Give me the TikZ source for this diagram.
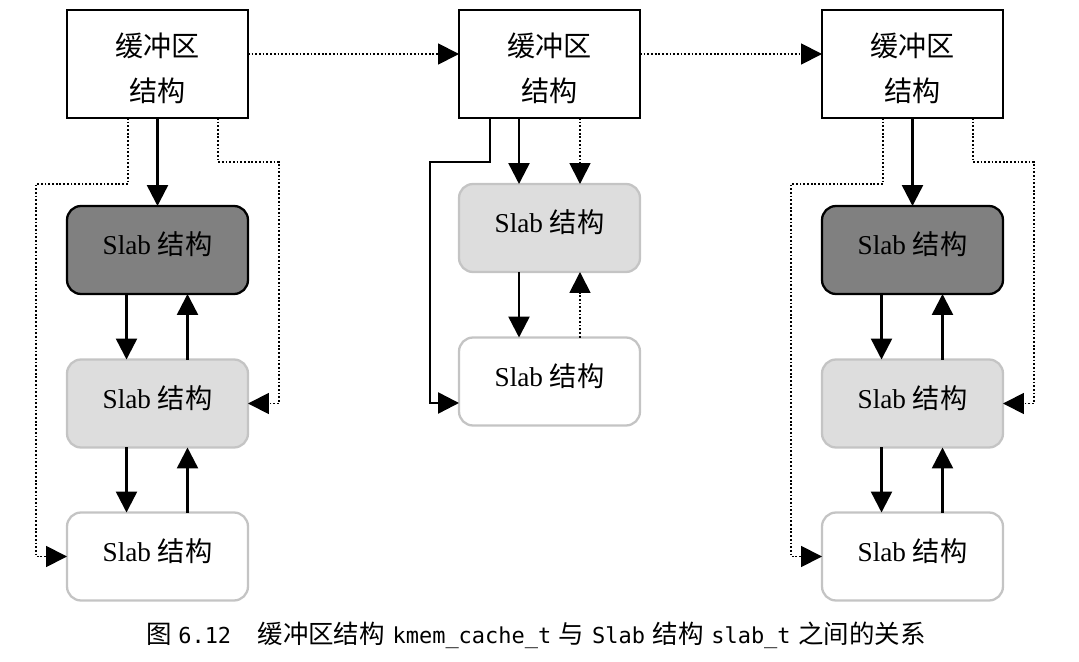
\documentclass[tikz,border=0pt]{standalone}
\usepackage{fontspec}
\setmainfont{Liberation Serif}
\newfontfamily\cjk{Noto Sans CJK SC}
\newfontfamily\capmono{DejaVu Sans Mono}
\usetikzlibrary{arrows.meta}
\definecolor{slabfull}{RGB}{128,128,128}
\definecolor{slabpart}{RGB}{221,221,221}
\definecolor{slabedge}{RGB}{196,196,196}
\tikzset{
  cachebox/.style={draw, line width=1.3pt, minimum width=3.62cm, minimum height=2.16cm, inner sep=0pt, outer sep=0pt, align=center, font=\cjk\fontsize{16}{25.6}\selectfont},
  slabbox/.style={draw=slabedge, line width=1.3pt, rounded corners=0.28cm, minimum width=3.62cm, minimum height=1.76cm, inner sep=0pt, outer sep=0pt, text depth=7.5pt, font=\fontsize{15.5}{18}\selectfont},
  slabfullbox/.style={slabbox, draw=black, fill=slabfull},
  slabpartbox/.style={slabbox, fill=slabpart},
  slabfreebox/.style={slabbox, fill=white},
  link/.style={line width=1.4pt, -{Triangle[length=0.42cm, width=0.42cm]}},
  dotlink/.style={link, line width=1pt, dash pattern=on 1pt off 1.1pt},
}

\begin{document}
\begin{tikzpicture}[x=0.02cm, y=-0.02cm]
                      \useasboundingbox (0,0) rectangle (1079,662);
                      % cache structures
                      \node[cachebox] (buf1) at (157.5,64) {\rule{0pt}{18.5pt}缓冲区\\结构};
                      \node[cachebox] (buf2) at (549.5,64) {\rule{0pt}{18.5pt}缓冲区\\结构};
                      \node[cachebox] (buf3) at (912.5,64) {\rule{0pt}{18.5pt}缓冲区\\结构};
                      % slabs, left
                      \node[slabfullbox] (s1a) at (157.5,250) {Slab {\cjk 结构}};
                      \node[slabpartbox] (s1b) at (157.5,403.5) {Slab {\cjk 结构}};
                      \node[slabfreebox] (s1c) at (157.5,556.5) {Slab {\cjk 结构}};
                      % slabs, middle
                      \node[slabpartbox] (s2a) at (549.5,228) {Slab {\cjk 结构}};
                      \node[slabfreebox] (s2b) at (549.5,381.5) {Slab {\cjk 结构}};
                      % slabs, right
                      \node[slabfullbox] (s3a) at (912.5,250) {Slab {\cjk 结构}};
                      \node[slabpartbox] (s3b) at (912.5,403.5) {Slab {\cjk 结构}};
                      \node[slabfreebox] (s3c) at (912.5,556.5) {Slab {\cjk 结构}};
                      % cache chain
                      \draw[dotlink] ([yshift=0.2cm]buf1.east) -- ([yshift=0.2cm]buf2.west);
                      \draw[dotlink] ([yshift=0.2cm]buf2.east) -- ([yshift=0.2cm]buf3.west);
                      % left column
                      \draw[link] (buf1.south) -- (s1a.north);
                      \draw[link] ([xshift=-0.62cm]s1a.south) -- ([xshift=-0.62cm]s1b.north);
                      \draw[link] ([xshift=0.6cm]s1b.north) -- ([xshift=0.6cm]s1a.south);
                      \draw[link] ([xshift=-0.62cm]s1b.south) -- ([xshift=-0.62cm]s1c.north);
                      \draw[link] ([xshift=0.6cm]s1c.north) -- ([xshift=0.6cm]s1b.south);
                      \draw[dotlink] ([xshift=-0.59cm]buf1.south) |- (36,184) |- (s1c.west);
                      \draw[dotlink] ([xshift=1.21cm]buf1.south) |- (279,162) |- (s1b.east);
                      % middle column
                      \draw[link] ([xshift=-0.61cm]buf2.south) -- ([xshift=-0.61cm]s2a.north);
                      \draw[dotlink] ([xshift=0.61cm]buf2.south) -- ([xshift=0.61cm]s2a.north);
                      \draw[link] ([xshift=-0.61cm]s2a.south) -- ([xshift=-0.61cm]s2b.north);
                      \draw[dotlink] ([xshift=0.61cm]s2b.north) -- ([xshift=0.61cm]s2a.south);
                      \draw[link] ([xshift=-1.19cm]buf2.south) |- (430,162) |- ([yshift=-0.43cm]s2b.west);
                      % right column
                      \draw[link] (buf3.south) -- (s3a.north);
                      \draw[link] ([xshift=-0.62cm]s3a.south) -- ([xshift=-0.62cm]s3b.north);
                      \draw[link] ([xshift=0.6cm]s3b.north) -- ([xshift=0.6cm]s3a.south);
                      \draw[link] ([xshift=-0.62cm]s3b.south) -- ([xshift=-0.62cm]s3c.north);
                      \draw[link] ([xshift=0.6cm]s3c.north) -- ([xshift=0.6cm]s3b.south);
                      \draw[dotlink] ([xshift=-0.59cm]buf3.south) |- (791,184) |- (s3c.west);
                      \draw[dotlink] ([xshift=1.21cm]buf3.south) |- (1034,162) |- (s3b.east);
                      % caption
                      \node[font=\capmono\fontsize{12.5}{15}\selectfont] (caption) at (536,635)
                        {{\cjk\fontsize{14.5}{15}\selectfont 图}\hspace{0.3em}6.12\hspace{1.2em}{\cjk\fontsize{14.5}{15}\selectfont 缓冲区结构}\hspace{0.35em}kmem\_cache\_t\hspace{0.35em}{\cjk\fontsize{14.5}{15}\selectfont 与}\hspace{0.35em}Slab\hspace{0.35em}{\cjk\fontsize{14.5}{15}\selectfont 结构}\hspace{0.35em}slab\_t\hspace{0.35em}{\cjk\fontsize{14.5}{15}\selectfont 之间的关系}};
                  \end{tikzpicture}
\end{document}
